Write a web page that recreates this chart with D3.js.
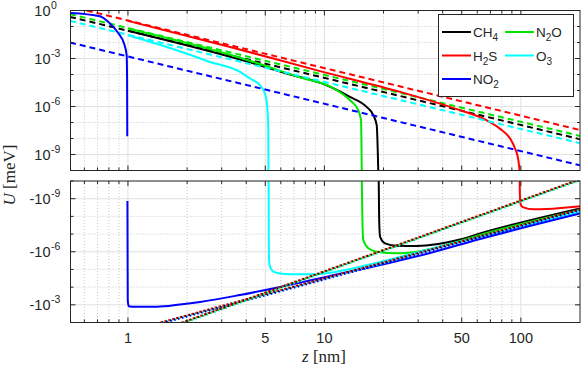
<!DOCTYPE html>
<html>
<head>
<meta charset="utf-8">
<script src="https://cdn.jsdelivr.net/npm/d3@7"></script>
<style>
  body { margin: 0; background: #fff; }
  svg { display: block; font-family: "Liberation Sans", Arial, sans-serif; }
</style>
</head>
<body>
<svg id="chart" width="581" height="369"></svg>
<script>
// ---- data: [z (nm), U (meV)] ----
var molecules = ['CH4', 'N2O', 'H2S', 'O3', 'NO2'];
var lineColors = ['#000000', '#00e600', '#ff0000', '#00ffff', '#0000ff'];

var zTicks = [1, 5, 10, 50, 100];
var posTicks = [1, 1e-3, 1e-6, 1e-9];
var posTickExp = ['0', '-3', '-6', '-9'];
var negTicks = [-1e-9, -1e-6, -1e-3];
var negTickExp = ['-9', '-6', '-3'];

// full potential, positive branch (top panel)
var posCH4 = [[1, 0.0546], [3.72, 8.66e-4], [6.5, 1.12e-4], [10.27, 2.14e-5], [13.49, 3.98e-6], [16.4, 9.4e-7], [17.74, 2.86e-7], [18.46, 6.8e-8], [18.8, 1e-10]];
var posN2O = [[1, 0.075], [3.72, 1.12e-3], [7.5, 6.7e-5], [11.1, 1.39e-5], [13.49, 2.48e-6], [14.88, 5.9e-7], [15.36, 1.39e-7], [15.49, 1e-10]];
var posH2S = [[1, 0.224], [3.31, 5.3e-3], [9.5, 1.63e-4], [24.3, 8.2e-6], [49, 5.9e-7], [66, 1.5e-7], [78.4, 4e-8], [88.1, 1e-8], [93.4, 2.37e-9], [97.1, 4.4e-10], [98.5, 1e-10]];
var posO3 = [[1, 0.0286], [1.77, 3.3e-3], [2.615, 6.1e-4], [3.72, 1.45e-4], [4.18, 5.6e-5], [4.7, 2.14e-5], [4.98, 6.5e-6], [5.12, 9.4e-7], [5.18, 3.3e-8], [5.19, 1e-10]];
var posNO2 = [[0.51, 0.708], [0.72, 0.44], [0.81, 0.154], [0.896, 0.0364], [0.955, 0.0086], [0.985, 0.00163], [0.99, 4.4e-5], [0.992, 1.4e-8]];

// short-range asymptotes (dashed, top panel)
var asymCH4 = [[0.507, 0.4], [200, 9.1e-9]];
var asymN2O = [[0.507, 0.59], [200, 1.45e-8]];
var asymH2S = [[0.55, 1.4], [200, 3.4e-8]];
var asymO3 = [[0.507, 0.224], [200, 5.1e-9]];
var asymNO2 = [[0.507, 0.01], [200, 2.1e-10]];

// full potential, negative branch (bottom panel)
var negCH4 = [[18.9, -1e-10], [19.0, -1.6e-8], [19.2, -1.41e-7], [20.35, -3.33e-7], [23.35, -4.55e-7], [29.5, -4.73e-7], [49, -2.03e-7], [62, -9.3e-8], [200, -3.59e-9]];
var negN2O = [[15.5, -1e-10], [15.63, -3.07e-8], [15.78, -2.16e-7], [16.73, -6.37e-7], [18.46, -9.9e-7], [23.35, -1.22e-6], [29.5, -9.9e-7], [49, -2.47e-7], [62, -1.13e-7], [200, -4.37e-9]];
var negH2S = [[98.6, -1e-10], [98.9, -6e-10], [99.3, -1.5e-9], [100.5, -2.5e-9], [103, -3.1e-9], [116, -4e-9], [135.6, -3.85e-9], [200, -2.7e-9]];
var negO3 = [[5.2, -1e-10], [5.21, -1e-7], [5.22, -2e-6], [5.25, -5e-6], [5.35, -9.4e-6], [5.5, -1.34e-5], [5.94, -1.7e-5], [6.68, -1.88e-5], [8.75, -1.88e-5], [11.33, -1.39e-5], [19.2, -3.8e-6], [34.5, -7e-7], [62, -1.45e-7], [200, -5.66e-9]];
var negNO2 = [[0.994, -1.35e-9], [0.996, -3e-6], [0.998, -6e-4], [1.01, -1.22e-3], [1.05, -1.28e-3], [1.405, -1.28e-3], [1.84, -9.6e-4], [2.33, -6.9e-4], [3.72, -2.78e-4], [5.94, -9.8e-5], [10.68, -2.35e-5], [19.2, -5.6e-6], [34.5, -1.17e-6], [62, -1.9e-7], [200, -6.9e-9]];

// long-range asymptotes (dotted, bottom panel)
var farCH4 = [[1.85, -1.11e-2], [200, -8.1e-11]];
var farH2S = [[1.85, -1.07e-2], [200, -7.8e-11]];
var farN2O = [[1.85, -1.16e-2], [200, -8.5e-11]];
var farO3 = [[1.85, -1.26e-2], [200, -9.25e-11]];
var midCH4 = [[1.45, -1.05e-2], [200, -4.0e-9]];
var midH2S = [[1.45, -1.02e-2], [200, -3.9e-9]];
var midO3 = [[1.45, -1.15e-2], [200, -4.4e-9]];
var midNO2 = [[1.45, -1.21e-2], [200, -4.6e-9]];

var posCurves = [posCH4, posN2O, posH2S, posO3, posNO2];
var asymCurves = [asymCH4, asymN2O, asymH2S, asymO3, asymNO2];
var negCurves = [negCH4, negN2O, negH2S, negO3, negNO2];
var farCurves = [[farO3, 3], [farN2O, 1], [farCH4, 0], [farH2S, 2]];
var midCurves = [[midO3, 3], [midNO2, 4], [midCH4, 0], [midH2S, 2]];

// ---- scales ----
var svg = d3.select('#chart');
var x = d3.scaleLog().domain([0.51, 200]).range([70.5, 580]);
var yTop = d3.scaleLog().domain([1, 1e-10]).range([10.5, 170.5]);
var yBot = d3.scaleLog().domain([-1e-10, -1e-2]).range([181, 322.5]);

var axisColor = '#262626';
var xMinor = [];
[0.1, 1, 10, 100].forEach(function (d) {
  for (var m = 1; m <= 9; m++) {
    var v = +(m * d).toPrecision(3);
    if (v > 0.51 && v < 200 && zTicks.indexOf(v) < 0) xMinor.push(v);
  }
});

function panel(y, decades, majors, clipId) {
  var r0 = y.range()[0], r1 = y.range()[1];
  var g = svg.append('g');
  svg.append('clipPath').attr('id', clipId).append('rect')
    .attr('x', x.range()[0]).attr('y', r0)
    .attr('width', x.range()[1] - x.range()[0]).attr('height', r1 - r0);
  // minor grid (dotted)
  xMinor.forEach(function (v) {
    g.append('line').attr('x1', x(v)).attr('x2', x(v)).attr('y1', r0).attr('y2', r1)
      .attr('stroke', '#c8c8c8').attr('stroke-dasharray', '1,2');
  });
  decades.forEach(function (v) {
    if (majors.indexOf(v) >= 0) return;
    g.append('line').attr('x1', x.range()[0]).attr('x2', x.range()[1]).attr('y1', y(v)).attr('y2', y(v))
      .attr('stroke', '#c8c8c8').attr('stroke-dasharray', '1,2');
  });
  // major grid
  zTicks.forEach(function (v) {
    g.append('line').attr('x1', x(v)).attr('x2', x(v)).attr('y1', r0).attr('y2', r1)
      .attr('stroke', '#e0e0e0');
  });
  majors.forEach(function (v) {
    g.append('line').attr('x1', x.range()[0]).attr('x2', x.range()[1]).attr('y1', y(v)).attr('y2', y(v))
      .attr('stroke', '#e0e0e0');
  });
  return g;
}

function frame(y, decades, majors) {
  var r0 = y.range()[0], r1 = y.range()[1];
  var xl = x.range()[0], xr = x.range()[1];
  var g = svg.append('g').attr('stroke', axisColor).attr('fill', 'none');
  xMinor.forEach(function (v) {
    g.append('line').attr('x1', x(v)).attr('x2', x(v)).attr('y1', r1).attr('y2', r1 - 3);
    g.append('line').attr('x1', x(v)).attr('x2', x(v)).attr('y1', r0).attr('y2', r0 + 3);
  });
  zTicks.forEach(function (v) {
    g.append('line').attr('x1', x(v)).attr('x2', x(v)).attr('y1', r1).attr('y2', r1 - 5);
    g.append('line').attr('x1', x(v)).attr('x2', x(v)).attr('y1', r0).attr('y2', r0 + 5);
  });
  decades.forEach(function (v) {
    var len = majors.indexOf(v) >= 0 ? 5 : 3;
    g.append('line').attr('x1', xl).attr('x2', xl + len).attr('y1', y(v)).attr('y2', y(v));
    g.append('line').attr('x1', xr).attr('x2', xr - len).attr('y1', y(v)).attr('y2', y(v));
  });
  g.append('rect').attr('x', xl).attr('y', r0).attr('width', xr - xl).attr('height', r1 - r0);
}

var topDecades = d3.range(0, 11).map(function (k) { return Math.pow(10, -k); });
var botDecades = d3.range(2, 11).map(function (k) { return -Math.pow(10, -k); });

var gTop = panel(yTop, topDecades, posTicks, 'clipTop');
var gBot = panel(yBot, botDecades, negTicks, 'clipBot');

// ---- curves ----
var lineTop = d3.line().x(function (d) { return x(d[0]); }).y(function (d) { return yTop(d[1]); }).curve(d3.curveMonotoneX);
var lineBot = d3.line().x(function (d) { return x(d[0]); }).y(function (d) { return yBot(d[1]); }).curve(d3.curveMonotoneX);

var cTop = svg.append('g').attr('clip-path', 'url(#clipTop)').attr('fill', 'none');
molecules.forEach(function (m, i) {
  cTop.append('path').attr('d', lineTop(posCurves[i])).attr('stroke', lineColors[i]).attr('stroke-width', 2);
  cTop.append('path').attr('d', lineTop(asymCurves[i])).attr('stroke', lineColors[i]).attr('stroke-width', 2)
    .attr('stroke-dasharray', '6,4');
});

var cBot = svg.append('g').attr('clip-path', 'url(#clipBot)').attr('fill', 'none');
negCurves.forEach(function (c, i) {
  cBot.append('path').attr('d', lineBot(c)).attr('stroke', lineColors[i]).attr('stroke-width', 2);
});
midCurves.concat(farCurves).forEach(function (c, k) {
  cBot.append('path').attr('d', lineBot(c[0])).attr('stroke', lineColors[c[1]]).attr('stroke-width', 2)
    .attr('stroke-dasharray', '1.5,2.5').attr('stroke-dashoffset', k % 4);
});

frame(yTop, topDecades, posTicks);
frame(yBot, botDecades, negTicks);

// ---- tick labels ----
function powLabel(yPos, prefix, exp) {
  svg.append('text').attr('x', 50.5).attr('y', yPos + 5).attr('text-anchor', 'end')
    .attr('font-size', 14.5).attr('fill', axisColor).text(prefix + '10');
  svg.append('text').attr('x', 51).attr('y', yPos - 1.5)
    .attr('font-size', 10.5).attr('fill', axisColor).text(exp);
}
posTicks.forEach(function (v, i) { powLabel(yTop(v), '', posTickExp[i]); });
negTicks.forEach(function (v, i) { powLabel(yBot(v), '-', negTickExp[i]); });

zTicks.forEach(function (v) {
  svg.append('text').attr('x', x(v)).attr('y', 343).attr('text-anchor', 'middle')
    .attr('font-size', 14.5).attr('fill', axisColor).text(v);
});

// axis titles
var xt = svg.append('text').attr('x', 324).attr('y', 362).attr('text-anchor', 'middle')
  .attr('font-family', '"Liberation Serif", "DejaVu Serif", serif').attr('font-size', 17).attr('fill', axisColor);
xt.append('tspan').attr('font-style', 'italic').text('z');
xt.append('tspan').text(' [nm]');
var yt = svg.append('text').attr('transform', 'translate(15,175) rotate(-90)').attr('text-anchor', 'middle')
  .attr('font-family', '"Liberation Serif", "DejaVu Serif", serif').attr('font-size', 17).attr('fill', axisColor);
yt.append('tspan').attr('font-style', 'italic').text('U');
yt.append('tspan').text(' [meV]');

// ---- legend ----
var legend = svg.append('g');
legend.append('rect').attr('x', 438.5).attr('y', 14.5).attr('width', 135).attr('height', 82)
  .attr('fill', '#fff').attr('stroke', axisColor);
var legendParts = {
  CH4: ['CH', '4', ''], N2O: ['N', '2', 'O'], H2S: ['H', '2', 'S'], O3: ['O', '3', ''], NO2: ['NO', '2', '']
};
molecules.forEach(function (m, i) {
  var col = i % 2, row = Math.floor(i / 2);
  var ly = 32 + row * 23.5;
  var lx = col === 0 ? 442 : 505;
  legend.append('line').attr('x1', lx).attr('x2', lx + 29).attr('y1', ly).attr('y2', ly)
    .attr('stroke', lineColors[i]).attr('stroke-width', 2);
  var t = legend.append('text').attr('x', lx + 31).attr('y', ly + 5).attr('font-size', 13.5).attr('fill', axisColor);
  var p = legendParts[m];
  t.append('tspan').text(p[0]);
  t.append('tspan').attr('dy', 4).attr('font-size', 10).text(p[1]);
  if (p[2]) t.append('tspan').attr('dy', -4).text(p[2]);
});
</script>
</body>
</html>
